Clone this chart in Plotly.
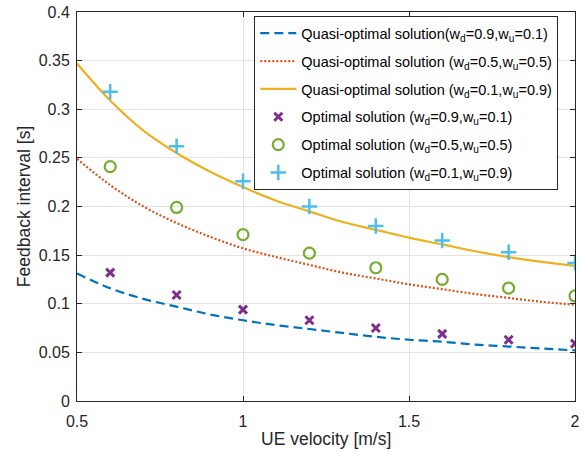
import plotly.graph_objects as go

# UE velocity samples for the quasi-optimal curves
v_curve = [0.5, 0.6, 0.7, 0.8, 0.9, 1.0, 1.1, 1.2, 1.3, 1.4, 1.5, 1.6, 1.7, 1.8, 1.9, 2.0]
quasi_09 = [0.131, 0.116, 0.105, 0.097, 0.089, 0.083, 0.078, 0.074, 0.070, 0.066, 0.063, 0.061, 0.058, 0.056, 0.054, 0.052]
quasi_05 = [0.249, 0.222, 0.200, 0.183, 0.169, 0.157, 0.148, 0.140, 0.132, 0.126, 0.120, 0.115, 0.110, 0.106, 0.102, 0.099]
quasi_01 = [0.347, 0.309, 0.278, 0.255, 0.236, 0.220, 0.206, 0.195, 0.184, 0.176, 0.168, 0.161, 0.154, 0.148, 0.143, 0.139]

# Optimal solution points
v_opt = [0.6, 0.8, 1.0, 1.2, 1.4, 1.6, 1.8, 2.0]
opt_09 = [0.132, 0.109, 0.094, 0.083, 0.075, 0.069, 0.063, 0.059]
opt_05 = [0.241, 0.199, 0.171, 0.152, 0.137, 0.125, 0.116, 0.108]
opt_01 = [0.318, 0.262, 0.226, 0.200, 0.180, 0.165, 0.153, 0.142]

x_ticks = [0.5, 1, 1.5, 2]
x_tick_text = ["0.5", "1", "1.5", "2"]
y_ticks = [0, 0.05, 0.1, 0.15, 0.2, 0.25, 0.3, 0.35, 0.4]
y_tick_text = ["0", "0.05", "0.1", "0.15", "0.2", "0.25", "0.3", "0.35", "0.4"]

x_title = "UE velocity [m/s]"
y_title = "Feedback interval [s]"

names = [
    "Quasi-optimal solution(w<sub>d</sub>=0.9,w<sub>u</sub>=0.1)",
    "Quasi-optimal solution (w<sub>d</sub>=0.5,w<sub>u</sub>=0.5)",
    "Quasi-optimal solution (w<sub>d</sub>=0.1,w<sub>u</sub>=0.9)",
    "Optimal solution (w<sub>d</sub>=0.9,w<sub>u</sub>=0.1)",
    "Optimal solution (w<sub>d</sub>=0.5,w<sub>u</sub>=0.5)",
    "Optimal solution (w<sub>d</sub>=0.1,w<sub>u</sub>=0.9)",
]

FONT = "Liberation Sans, Arial, sans-serif"
TXT = "#262626"

fig = go.Figure()
fig.add_trace(go.Scatter(x=v_curve, y=quasi_09, mode="lines", name=names[0], legendgroup="g1",
                         line=dict(color="#0072BD", width=2.2, dash="9px,5px", shape="spline")))
fig.add_trace(go.Scatter(x=v_curve, y=quasi_05, mode="lines", name=names[1], legendgroup="g2",
                         line=dict(color="#D95319", width=2.2, dash="2px,2px", shape="spline")))
fig.add_trace(go.Scatter(x=v_curve, y=quasi_01, mode="lines", name=names[2], legendgroup="g3",
                         line=dict(color="#EDB120", width=2.2, shape="spline")))
fig.add_trace(go.Scatter(x=v_opt, y=opt_09, mode="markers", name=names[3], legendgroup="g4",
                         marker=dict(symbol="x-thin-open", size=8, color="#7E2F8E",
                                     line=dict(color="#7E2F8E", width=3))))
fig.add_trace(go.Scatter(x=v_opt, y=opt_05, mode="markers", name=names[4], legendgroup="g5",
                         marker=dict(symbol="circle-open", size=11, color="#77AC30",
                                     line=dict(color="#77AC30", width=2.2))))
fig.add_trace(go.Scatter(x=v_opt, y=opt_01, mode="markers", name=names[5], legendgroup="g6",
                         marker=dict(symbol="cross-thin-open", size=11, color="#4DBEEE",
                                     line=dict(color="#4DBEEE", width=2.5))))

axis_common = dict(
    showline=True, linecolor=TXT, linewidth=1, mirror="ticks",
    ticks="inside", ticklen=5, tickcolor=TXT,
    showgrid=True, gridcolor="#E3E3E3", gridwidth=1,
    zeroline=False, automargin=False,
    tickfont=dict(family=FONT, size=16, color=TXT),
)

fig.update_layout(
    width=587, height=453,
    margin=dict(l=77, r=12, t=12, b=52, autoexpand=False),
    paper_bgcolor="white", plot_bgcolor="white",
    font=dict(family=FONT, size=16, color=TXT),
    xaxis=dict(range=[0.5, 2], tickvals=x_ticks, ticktext=x_tick_text,
               ticklabelstandoff=6, **axis_common),
    yaxis=dict(range=[0, 0.4], tickvals=y_ticks, ticktext=y_tick_text,
               ticklabelstandoff=3, **axis_common),
    legend=dict(x=0.356, y=0.989, xanchor="left", yanchor="top",
                bgcolor="white", bordercolor=TXT, borderwidth=1,
                font=dict(family=FONT, size=14.5, color="#000000"),
                itemwidth=36, tracegroupgap=6),
    showlegend=True,
    annotations=[
        dict(text=x_title, xref="paper", yref="paper", x=0.5, y=-0.0985,
             xanchor="center", yanchor="middle", showarrow=False,
             font=dict(family=FONT, size=17.5, color=TXT)),
        dict(text=y_title, xref="paper", yref="paper", x=-0.107, y=0.5,
             xanchor="center", yanchor="middle", textangle=-90, showarrow=False,
             font=dict(family=FONT, size=17.5, color=TXT)),
    ],
)

fig.write_html("out.html", config={"displayModeBar": False},
               post_script="document.body.style.margin='0';document.body.style.overflow='hidden';")
